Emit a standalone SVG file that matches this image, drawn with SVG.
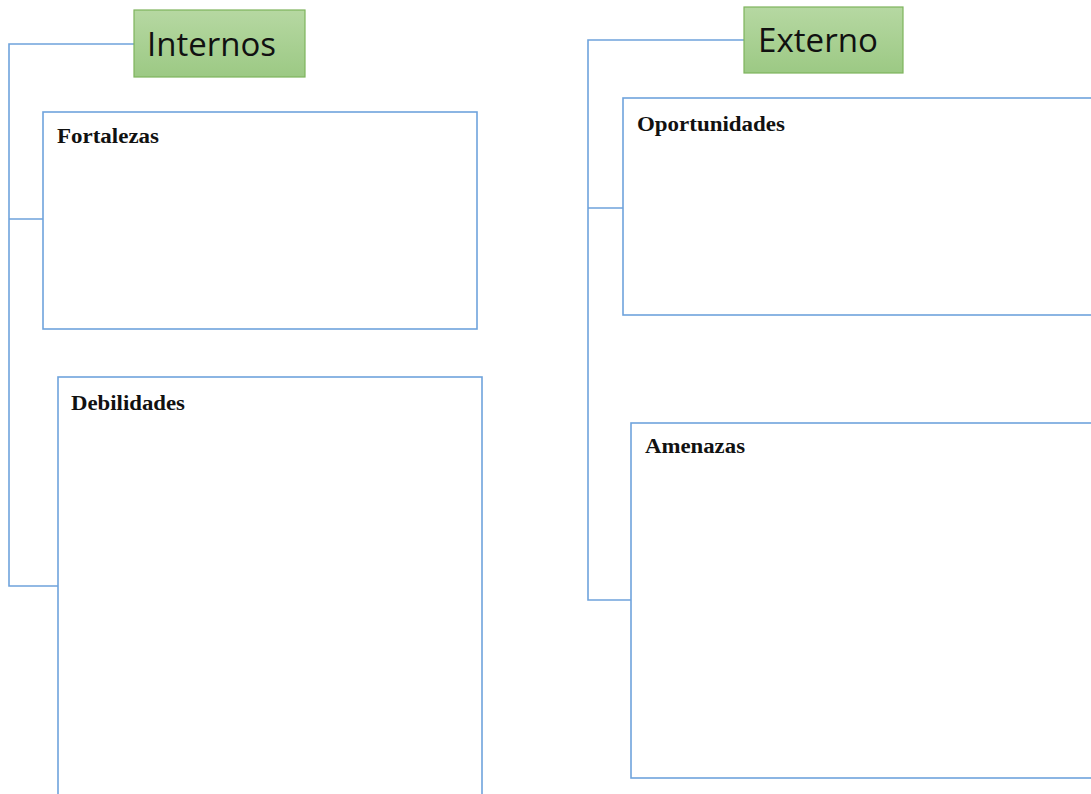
<svg xmlns="http://www.w3.org/2000/svg" width="1091" height="794" viewBox="0 0 1091 794">
<defs>
<linearGradient id="g" x1="0" y1="0" x2="0" y2="1">
<stop offset="0" stop-color="#b6d8a2"/>
<stop offset="1" stop-color="#9cc984"/>
</linearGradient>
<style>
.hdr{fill:url(#g);stroke:#7eb45c;stroke-width:1.2}
.hdrt{font-family:"Open Sans","Liberation Sans",sans-serif;font-size:33px;fill:#111}
.box{fill:#fff;stroke:#6fa3dc;stroke-width:1.6}
.lbl{font-family:"Liberation Serif",serif;font-weight:bold;font-size:20px;fill:#111}
.con{fill:none;stroke:#6fa3dc;stroke-width:1.6}
</style>
</defs>
<rect width="1091" height="794" fill="#fff"/>
<g id="connectors">
<path class="con" d="M134,44 H9 V586 H58 M9,219 H43"/>
<path class="con" d="M744,40 H588 V600 H631 M588,208 H623"/>
</g>
<g id="internos"><rect class="hdr" x="134" y="10" width="171" height="67"/><text class="hdrt" x="147" y="56" textLength="129" lengthAdjust="spacingAndGlyphs">Internos</text></g>
<g id="externo"><rect class="hdr" x="744" y="7" width="159" height="66"/><text class="hdrt" x="758" y="52" textLength="120" lengthAdjust="spacingAndGlyphs">Externo</text></g>
<g id="fortalezas"><rect class="box" x="43" y="112" width="434" height="217"/><text class="lbl" x="57" y="143" textLength="102" lengthAdjust="spacingAndGlyphs">Fortalezas</text></g>
<g id="debilidades"><rect class="box" x="58" y="377" width="424" height="430"/><text class="lbl" x="71" y="410" textLength="114" lengthAdjust="spacingAndGlyphs">Debilidades</text></g>
<g id="oportunidades"><rect class="box" x="623" y="98" width="480" height="217"/><text class="lbl" x="637" y="131" textLength="148" lengthAdjust="spacingAndGlyphs">Oportunidades</text></g>
<g id="amenazas"><rect class="box" x="631" y="423" width="472" height="355"/><text class="lbl" x="645" y="453" textLength="100" lengthAdjust="spacingAndGlyphs">Amenazas</text></g>
</svg>
